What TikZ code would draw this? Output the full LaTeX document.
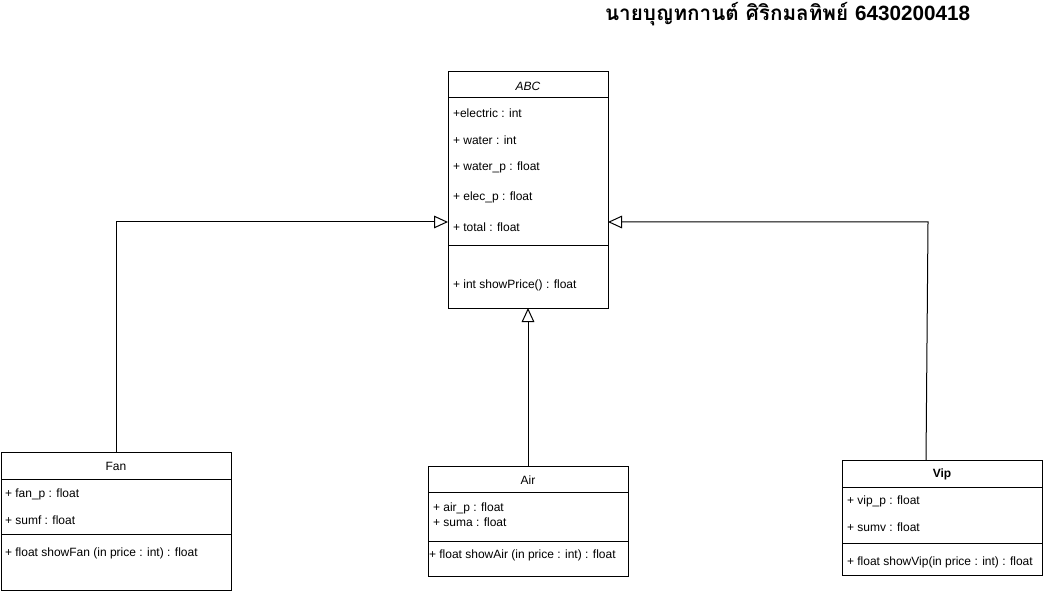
\documentclass[tikz,border=0pt]{standalone}
\usepackage{fontspec}
\setmainfont{Liberation Sans}
\newfontfamily\thaifont[Script=Thai]{Loma}
\usetikzlibrary{arrows.meta}
\begin{document}
\begin{tikzpicture}[x=0.75pt,y=-0.75pt,
  every node/.style={inner sep=0pt,outer sep=0pt},
  umlbox/.style={draw,line width=0.75pt,fill=white,anchor=north west},
  member/.style={anchor=west,yshift=-1.5pt,font=\fontsize{9}{10}\selectfont},
  cname/.style={font=\fontsize{9}{10}\selectfont},
  inherit/.style={line width=0.75pt,-{Triangle[open,length=10.5pt,width=9.5pt]}}]
\useasboundingbox (0,0) rectangle (1044,591);
\fill[white] (0,0) rectangle (1044,591);

% title
\node[anchor=west,font=\fontsize{15.5}{18}\selectfont\bfseries] (title) at (605,14.5)
  {\thaifont นายบุญทกานต์ ศิริกมลทิพย์\ \normalfont\bfseries 6430200418};

% abstract class ABC
\node[umlbox,minimum width=120pt,minimum height=177pt] (abc) at (448,72) {};
\draw[line width=0.75pt] (448,98) -- (608,98) (448,246) -- (608,246);
\node[cname,font=\fontsize{9}{10}\selectfont\itshape] (abcname) at (528,86) {ABC};
\node[member] (a1) at (453,111) {+electric : int};
\node[member] (a2) at (453,138) {+ water : int};
\node[member] (a3) at (453,165) {+ water\_p : float};
\node[member] (a4) at (453,195) {+ elec\_p : float};
\node[member] (a5) at (453,225) {+ total : float};
\node[member] (a6) at (453,283) {+ int showPrice() : float};

% class Fan
\node[umlbox,minimum width=172.5pt,minimum height=103.5pt] (fan) at (1,452) {};
\draw[line width=0.75pt] (1,479) -- (231,479) (1,534) -- (231,534);
\node[cname] (fanname) at (116,466.5) {Fan};
\node[member] (f1) at (5,492) {+ fan\_p : float};
\node[member] (f2) at (5,518) {+ sumf : float};
\node[member] (f3) at (5,551) {+ float showFan (in price : int) : float};

% class Air
\node[umlbox,minimum width=150pt,minimum height=82.5pt] (air) at (428,466) {};
\draw[line width=0.75pt] (428,492) -- (628,492) (428,541) -- (628,541);
\node[cname] (airname) at (528,480) {Air};
\node[member] (r1) at (433,506) {+ air\_p : float};
\node[member] (r2) at (433,520) {+ suma : float};
\node[member] (r3) at (429,553) {+ float showAir (in price : int) : float};

% class Vip
\node[umlbox,minimum width=150pt,minimum height=86.25pt] (vip) at (842,460) {};
\draw[line width=0.75pt] (842,487) -- (1042,487) (842,543) -- (1042,543);
\node[cname,font=\fontsize{9}{10}\selectfont\bfseries] (vipname) at (942,474.5) {Vip};
\node[member] (v1) at (847,499) {+ vip\_p : float};
\node[member] (v2) at (847,525) {+ sumv : float};
\node[member] (v3) at (847,560) {+ float showVip(in price : int) : float};

% generalisation connectors
\coordinate (fanbend) at (116,222);
\coordinate (abcleft) at (448,222);
\coordinate (vipbend) at (928,222);
\coordinate (abcright) at (608,222);
\coordinate (fantop) at (116,452);
\coordinate (viptop) at (926,460);
\coordinate (airtop) at (528,466);
\coordinate (abcbottom) at (528,308);
\draw[inherit] (fantop) -- (fanbend) -- (abcleft);
\draw[inherit] (viptop) -- (vipbend) -- (abcright);
\draw[inherit] (airtop) -- (abcbottom);
\end{tikzpicture}
\end{document}
